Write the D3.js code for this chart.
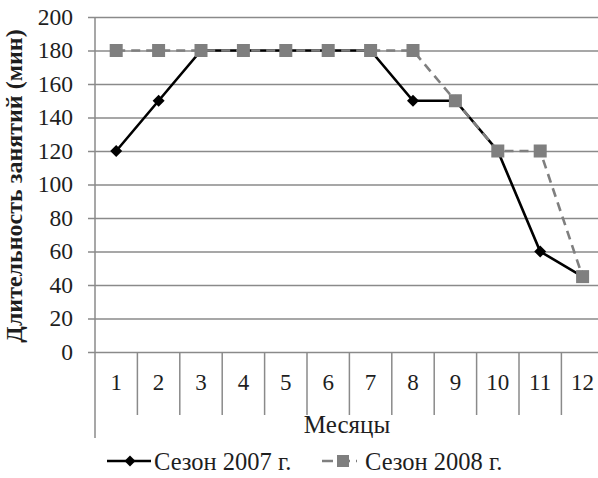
<!DOCTYPE html>
<html>
<head>
<meta charset="utf-8">
<script src="https://cdn.jsdelivr.net/npm/d3@7"></script>
</head>
<body style="margin:0;background:#fff">
<svg id="chart" width="598" height="478" style="display:block"></svg>
<script>
const months = ["1","2","3","4","5","6","7","8","9","10","11","12"];
const season2007 = [120,150,180,180,180,180,180,150,150,120,60,45];
const season2008 = [180,180,180,180,180,180,180,180,150,120,120,45];
const yTicks = [0,20,40,60,80,100,120,140,160,180,200];
const seriesNames = ["Сезон 2007 г.", "Сезон 2008 г."];
const yTitle = "Длительность занятий (мин)";
const xTitle = "Месяцы";

const FONT = "Liberation Serif";
const TXT = "#1e1e1e";
const svg = d3.select("#chart");
const mLeft = 95, mTop = 17, mBottom = 352;
const x = d3.scaleBand().domain(months).range([mLeft, mLeft + 12 * 42.4]);
const y = d3.scaleLinear().domain([0, 200]).range([mBottom, mTop]);
const grid = "#8a8a8a";

// horizontal gridlines (tick lines only, labels drawn separately)
const yAxis = d3.axisLeft(y).tickValues(yTicks).tickSize(-(598 - mLeft)).tickFormat("");
const gy = svg.append("g").attr("transform", `translate(${mLeft},0)`).call(yAxis);
gy.select(".domain").remove();
gy.selectAll(".tick line").attr("stroke", grid).attr("stroke-width", 1.5).attr("x1", -7);
gy.selectAll(".tick text").remove();

// y tick labels
svg.append("g").selectAll("text").data(yTicks).join("text")
  .attr("x", 73).attr("y", d => y(d)).attr("dy", "0.33em")
  .attr("text-anchor", "end").attr("font-size", 23.5).attr("font-family", FONT)
  .attr("fill", TXT).text(d => d);

// vertical axis line extended
svg.append("line").attr("x1", mLeft).attr("x2", mLeft).attr("y1", mTop).attr("y2", 438)
  .attr("stroke", grid).attr("stroke-width", 1.5);

// category dividers
const dividers = months.map(m => x(m) + x.bandwidth());
svg.append("g").selectAll("line").data(dividers).join("line")
  .attr("x1", d => d).attr("x2", d => d).attr("y1", mBottom).attr("y2", 415)
  .attr("stroke", grid).attr("stroke-width", 1.5);

// category labels
svg.append("g").selectAll("text").data(months).join("text")
  .attr("x", d => x(d) + x.bandwidth() / 2).attr("y", 390)
  .attr("text-anchor", "middle").attr("font-size", 23).attr("font-family", FONT)
  .attr("fill", TXT).text(d => d);

// x title
svg.append("text").attr("x", 347).attr("y", 433).attr("text-anchor", "middle")
  .attr("font-size", 25).attr("font-family", FONT).attr("fill", TXT).text(xTitle);

// y title
svg.append("text").attr("transform", "translate(22,186) rotate(-90)")
  .attr("text-anchor", "middle").attr("font-size", 24).attr("font-weight", "bold")
  .attr("font-family", FONT).attr("fill", TXT).text(yTitle);

const cx = (d, i) => x(months[i]) + x.bandwidth() / 2;
const line = d3.line().x(cx).y(d => y(d));

// 2007 series
svg.append("path").datum(season2007).attr("d", line).attr("fill", "none")
  .attr("stroke", "#000").attr("stroke-width", 2.6);
svg.append("g").selectAll("path").data(season2007).join("path")
  .attr("d", d3.symbol(d3.symbolSquare, 72))
  .attr("transform", (d, i) => `translate(${cx(d, i)},${y(d)}) rotate(45)`)
  .attr("fill", "#000");

// 2008 series
const gray = "#7f7f7f";
svg.append("path").datum(season2008).attr("d", line).attr("fill", "none")
  .attr("stroke", gray).attr("stroke-width", 2.6).attr("stroke-dasharray", "9,6");
svg.append("g").selectAll("rect").data(season2008).join("rect")
  .attr("x", (d, i) => cx(d, i) - 6.5).attr("y", d => y(d) - 6.5)
  .attr("width", 13).attr("height", 13).attr("fill", gray);

// legend
const ly = 461;
const lg = svg.append("g");
lg.append("line").attr("x1", 107).attr("x2", 151).attr("y1", ly).attr("y2", ly)
  .attr("stroke", "#000").attr("stroke-width", 2.6);
lg.append("path").attr("d", d3.symbol(d3.symbolSquare, 60))
  .attr("transform", `translate(130,${ly}) rotate(45)`).attr("fill", "#000");
lg.append("text").attr("x", 154).attr("y", ly + 8.5).attr("font-size", 24.5)
  .attr("font-family", FONT).attr("fill", TXT).text(seriesNames[0]);
lg.append("line").attr("x1", 322).attr("x2", 357).attr("y1", ly).attr("y2", ly)
  .attr("stroke", gray).attr("stroke-width", 2.6).attr("stroke-dasharray", "11,6");
lg.append("rect").attr("x", 337).attr("y", ly - 6).attr("width", 12).attr("height", 12).attr("fill", gray);
lg.append("text").attr("x", 365).attr("y", ly + 8.5).attr("font-size", 24.5)
  .attr("font-family", FONT).attr("fill", TXT).text(seriesNames[1]);
</script>
</body>
</html>
